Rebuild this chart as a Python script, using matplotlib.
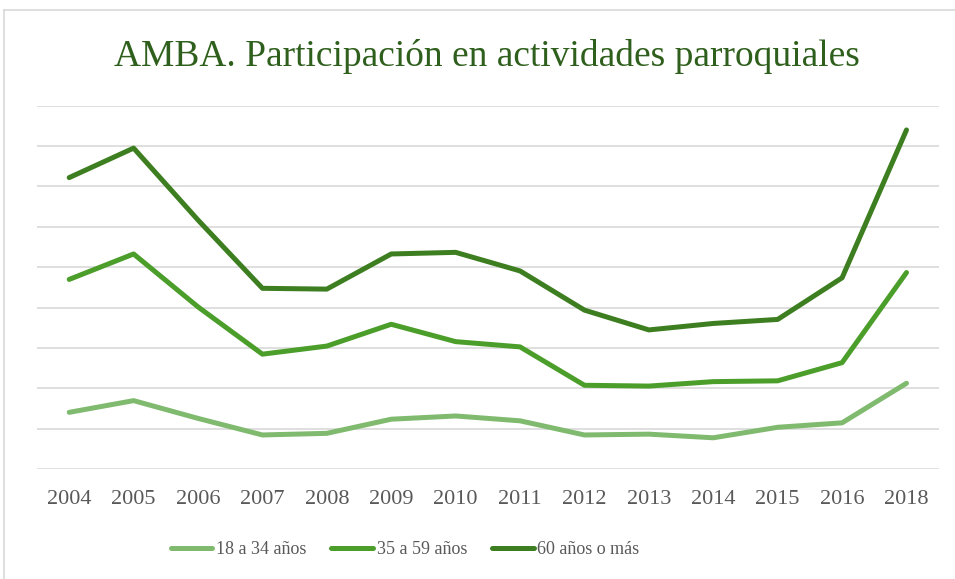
import matplotlib
matplotlib.use("Agg")
import matplotlib.pyplot as plt
from matplotlib.lines import Line2D

years = ["2004", "2005", "2006", "2007", "2008", "2009", "2010",
         "2011", "2012", "2013", "2014", "2015", "2016", "2018"]

age_18_34 = [1.41, 1.70, 1.26, 0.85, 0.89, 1.24, 1.32,
             1.20, 0.85, 0.87, 0.78, 1.04, 1.15, 2.13]
age_35_59 = [4.70, 5.33, 4.02, 2.85, 3.05, 3.59, 3.16,
             3.03, 2.08, 2.06, 2.17, 2.19, 2.64, 4.87]
age_60_plus = [7.22, 7.95, 6.17, 4.48, 4.46, 5.33, 5.37,
               4.91, 3.94, 3.45, 3.61, 3.71, 4.74, 8.40]

series_labels = ["18 a 34 años", "35 a 59 años", "60 años o más"]
series_colors = ["#80BA6F", "#4C9E2B", "#3D7E20"]

plt.rcParams['font.family'] = ['Liberation Serif', 'DejaVu Serif']

fig = plt.figure(figsize=(9.55, 5.79), dpi=100)
ax = fig.add_axes([37 / 955, 1 - 469.3 / 579, (938.7 - 37) / 955, (469.3 - 105.7) / 579])

x = range(len(years))
for vals, lab, col in zip([age_18_34, age_35_59, age_60_plus], series_labels, series_colors):
    ax.plot(x, vals, color=col, linewidth=3.6, label=lab,
            solid_capstyle='round', solid_joinstyle='round', zorder=3)

ax.set_xlim(-0.5, len(years) - 0.5)
ax.set_ylim(0, 9)
ax.set_yticks(range(0, 10))
ax.set_yticklabels([])
ax.tick_params(axis='y', length=0)
ax.grid(axis='y', color='#D9D9D9', linewidth=1.2, zorder=0)
ax.set_xticks(list(x))
ax.set_xticklabels(years, fontsize=16, color='#595959')
ax.tick_params(axis='x', length=0, pad=15)
for s in ax.spines.values():
    s.set_visible(False)

fig.text(0.51, 1 - 57 / 579, "AMBA. Participación en actividades parroquiales",
         ha='center', va='center', fontsize=27, color='#2F5F1C')

handles = [Line2D([], [], color=c, linewidth=3.6, solid_capstyle='round') for c in series_colors]
fig.legend(handles, series_labels, loc='center', bbox_to_anchor=(405 / 955, 1 - 550 / 579),
           ncol=3, frameon=False, fontsize=13, handlelength=2.3, handletextpad=0.2,
           columnspacing=1.4, labelcolor='#595959')

# light frame around the chart
fig.add_artist(Line2D([4 / 955, 4 / 955], [0, 1 - 10 / 579], transform=fig.transFigure,
                      color='#D9D9D9', linewidth=1.2))
fig.add_artist(Line2D([4 / 955, 1], [1 - 10 / 579, 1 - 10 / 579], transform=fig.transFigure,
                      color='#D9D9D9', linewidth=1.2))

fig.savefig("out.png", dpi=100)
